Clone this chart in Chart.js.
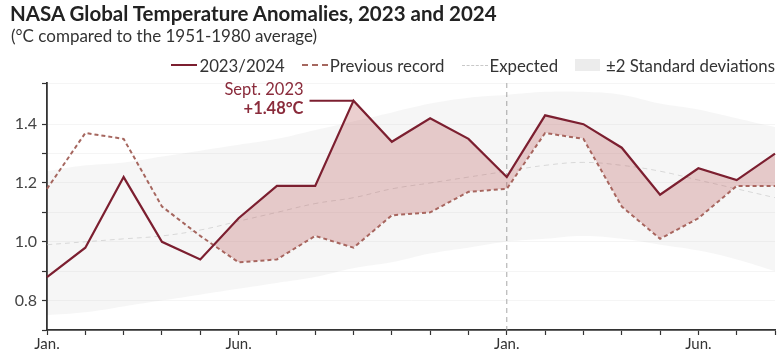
<!DOCTYPE html>
<html>
<head>
<meta charset="utf-8">
<script src="https://cdn.jsdelivr.net/npm/chart.js@4"></script>
<style>
  body { margin: 0; background: #fff; font-family: Lato, "Noto Sans", sans-serif; }
  #wrap { position: relative; width: 777px; height: 351px; overflow: hidden; }
  #wrap canvas { position: absolute; left: 0; top: 0; }
  .title { position: absolute; left: 10px; top: 1px; font-size: 20.5px; font-weight: 700; color: #222; white-space: nowrap; }
  .subtitle { position: absolute; left: 11px; top: 25px; font-size: 17px; color: #333; white-space: nowrap; }
  .legend { position: absolute; right: 2px; top: 54px; height: 22px; font-size: 16.8px; color: #333; display: flex; align-items: center; white-space: nowrap; }
  .legend .item { display: flex; align-items: center; margin-left: 17px; }
  .legend .sw { display: inline-block; width: 26px; margin-right: 2px; }
  .legend .box { display: inline-block; width: 25px; height: 12px; background: #ececec; margin-right: 6px; }
</style>
</head>
<body>
<div id="wrap">
  <canvas id="tempChart" width="777" height="351"></canvas>
  <div class="title">NASA Global Temperature Anomalies, 2023 and 2024</div>
  <div class="subtitle">(°C compared to the 1951-1980 average)</div>
  <div class="legend">
    <div class="item"><span class="sw" style="border-top: 2px solid #7c1f30;"></span>2023/2024</div>
    <div class="item"><span class="sw" style="border-top: 2px dashed #a5675f;"></span>Previous record</div>
    <div class="item"><span class="sw" style="border-top: 1px dashed #c8c8c8;"></span>Expected</div>
    <div class="item"><span class="box"></span>±2 Standard deviations</div>
  </div>
</div>
<script>
// months Jan 2023 .. Aug 2024
const months = ['Jan.', 'Feb.', 'Mar.', 'Apr.', 'May', 'Jun.', 'Jul.', 'Aug.', 'Sept.', 'Oct.', 'Nov.', 'Dec.',
                'Jan.', 'Feb.', 'Mar.', 'Apr.', 'May', 'Jun.', 'Jul.', 'Aug.'];
const shownLabels = ['Jan.', 'Jun.'];

const anomaly2324 = [0.88, 0.98, 1.22, 1.00, 0.94, 1.08, 1.19, 1.19, 1.48, 1.34, 1.42, 1.35,
                     1.22, 1.43, 1.40, 1.32, 1.16, 1.25, 1.21, 1.30];
const previousRecord = [1.18, 1.37, 1.35, 1.12, 1.02, 0.93, 0.94, 1.02, 0.98, 1.09, 1.10, 1.17,
                        1.18, 1.37, 1.35, 1.12, 1.01, 1.08, 1.19, 1.19];
const expected = [0.99, 1.00, 1.01, 1.02, 1.04, 1.07, 1.10, 1.13, 1.15, 1.18, 1.20, 1.22,
                  1.24, 1.26, 1.27, 1.26, 1.24, 1.21, 1.18, 1.15];
const sdUpper = [1.24, 1.26, 1.27, 1.29, 1.31, 1.33, 1.35, 1.38, 1.41, 1.44, 1.47, 1.49,
                 1.50, 1.51, 1.51, 1.50, 1.47, 1.45, 1.42, 1.39];
const sdLower = [0.75, 0.76, 0.78, 0.80, 0.82, 0.84, 0.86, 0.88, 0.91, 0.93, 0.96, 0.98,
                 1.00, 1.01, 1.02, 1.01, 0.99, 0.97, 0.94, 0.90];

const yearStartIndex = 12;
const recordIndex = 8;
const recordLabel = ['Sept. 2023', '+1.48°C'];

const maroon = '#7c1f30';

// dashed line at Jan 2024 + Sept. 2023 callout
const annotations = {
  id: 'annotations',
  beforeDatasetsDraw(chart) {
    const { ctx, chartArea, scales } = chart;
    const x = scales.x.getPixelForValue(yearStartIndex);
    ctx.save();
    ctx.strokeStyle = '#a8a8a8';
    ctx.lineWidth = 1;
    ctx.setLineDash([5, 4]);
    ctx.beginPath();
    ctx.moveTo(x, chartArea.top);
    ctx.lineTo(x, chartArea.bottom);
    ctx.stroke();
    ctx.restore();
  },
  afterDatasetsDraw(chart) {
    const { ctx, scales } = chart;
    const x = scales.x.getPixelForValue(recordIndex);
    const y = scales.y.getPixelForValue(anomaly2324[recordIndex]);
    ctx.save();
    ctx.strokeStyle = maroon;
    ctx.lineWidth = 2;
    ctx.beginPath();
    ctx.moveTo(x - 44, y);
    ctx.lineTo(x, y);
    ctx.stroke();
    ctx.fillStyle = '#8a2b3b';
    ctx.textAlign = 'right';
    ctx.textBaseline = 'middle';
    ctx.font = '16.5px Lato';
    ctx.fillText(recordLabel[0], x - 50, y - 11);
    ctx.font = 'bold 16.5px Lato';
    ctx.fillText(recordLabel[1], x - 50, y + 8);
    ctx.restore();
  }
};

new Chart(document.getElementById('tempChart'), {
  type: 'line',
  data: {
    labels: months,
    datasets: [
      {
        label: '2023/2024',
        data: anomaly2324,
        borderColor: maroon,
        borderWidth: 2.2,
        pointRadius: 0,
        tension: 0,
        order: 0,
        fill: { target: 1, above: 'rgba(190, 95, 95, 0.3)', below: 'rgba(0,0,0,0)' }
      },
      {
        label: 'Previous record',
        data: previousRecord,
        borderColor: '#a5675f',
        borderWidth: 2,
        borderDash: [4, 3],
        pointRadius: 0,
        tension: 0,
        order: 1,
        fill: false
      },
      {
        label: 'Expected',
        data: expected,
        borderColor: 'rgba(190, 190, 190, 0.55)',
        borderWidth: 1,
        borderDash: [5, 4],
        pointRadius: 0,
        tension: 0.4,
        order: 2,
        fill: false
      },
      {
        label: '±2 Standard deviations',
        data: sdUpper,
        borderWidth: 0,
        borderColor: 'rgba(0,0,0,0)',
        backgroundColor: 'rgba(0, 0, 0, 0.035)',
        pointRadius: 0,
        tension: 0.4,
        order: 4,
        fill: '+1'
      },
      {
        label: 'lower',
        data: sdLower,
        borderWidth: 0,
        borderColor: 'rgba(0,0,0,0)',
        pointRadius: 0,
        tension: 0.4,
        order: 5,
        fill: false
      }
    ]
  },
  options: {
    responsive: false,
    animation: false,
    layout: { padding: { top: 83, right: 2, left: 0, bottom: 0 } },
    plugins: {
      legend: { display: false },
      tooltip: { enabled: false }
    },
    scales: {
      x: {
        offset: false,
        afterFit: (scale) => { scale.height = 21; },
        grid: { drawOnChartArea: false, tickColor: '#333', tickLength: 5, tickWidth: 1.2 },
        border: { color: '#333', width: 1.8 },
        ticks: {
          autoSkip: false,
          maxRotation: 0,
          padding: 0,
          color: '#333',
          font: { family: 'Lato', size: 15 },
          callback: function (v) {
            const m = this.getLabelForValue(v);
            return shownLabels.includes(m) ? m : '';
          }
        }
      },
      y: {
        min: 0.7,
        max: 1.54,
        afterFit: (scale) => { scale.width = 47; },
        grid: { color: 'rgba(0,0,0,0.04)', tickColor: '#333', tickLength: 5, tickWidth: 1.2 },
        border: { color: '#333', width: 1.8 },
        ticks: {
          stepSize: 0.1,
          padding: 5,
          color: '#444',
          font: { family: 'Lato', size: 16 },
          callback: (v) => {
            const t = Math.round(v * 10);
            return (t % 2 === 0 && t >= 8 && t <= 14) ? v.toFixed(1) : '';
          }
        }
      }
    }
  },
  plugins: [annotations]
});
</script>
</body>
</html>
